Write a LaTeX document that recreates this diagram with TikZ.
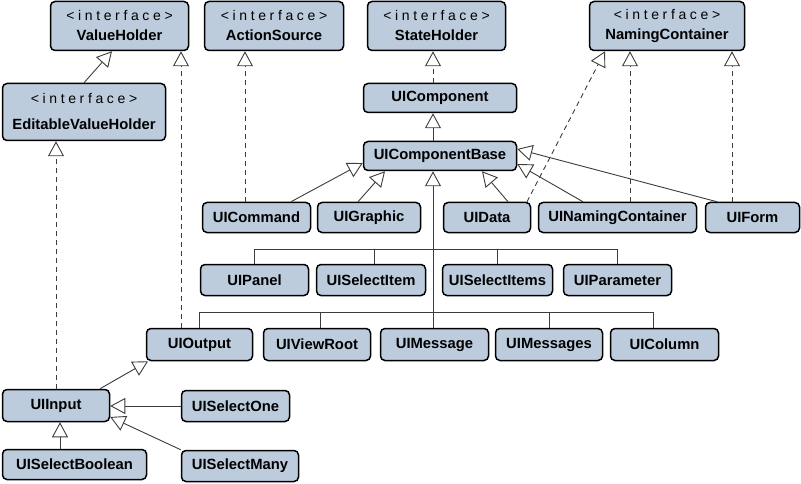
\documentclass[tikz,border=0pt]{standalone}
\usepackage{fontspec}
\setmainfont{Liberation Sans}
\newfontfamily\spacedfont[LetterSpace=26]{Liberation Sans}
\usetikzlibrary{arrows.meta}
\definecolor{boxfill}{RGB}{188,204,221}
\definecolor{linecol}{RGB}{60,60,60}
\newcommand\ifacelabel{{\spacedfont\mdseries\fontsize{14}{14}\selectfont <interface>}}
\tikzset{
  box/.style={draw=black, line width=1.5pt, rounded corners=4.5pt, fill=boxfill,
    inner sep=0pt, font=\bfseries\fontsize{14.8}{18}\selectfont, align=center},
  conn/.style={draw=linecol, line width=0.9pt},
  inh/.style={conn, -{Triangle[width=16pt,length=15pt,fill=white]}},
  real/.style={inh, dash pattern=on 5pt off 4pt},
}
\begin{document}
\begin{tikzpicture}[x=1pt,y=-1pt]
\useasboundingbox (0,0) rectangle (801,484);
% interfaces
\node[box, minimum width=138pt, minimum height=49pt] (VH) at (119.5,26) {\ifacelabel\\[2pt]ValueHolder};
\node[box, minimum width=139pt, minimum height=49pt] (AS) at (274,26) {\ifacelabel\\[2pt]ActionSource};
\node[box, minimum width=138pt, minimum height=49pt] (SH) at (436.5,26) {\ifacelabel\\[2pt]StateHolder};
\node[box, minimum width=155pt, minimum height=49pt] (NC) at (667,26) {\ifacelabel\\[2pt]NamingContainer};
\node[box, minimum width=163pt, minimum height=57pt] (EVH) at (84,112) {\ifacelabel\\[8pt]EditableValueHolder};
% core
\node[box, minimum width=153pt, minimum height=29pt] (UIC) at (440,98) {UIComponent};
\node[box, minimum width=153pt, minimum height=29pt] (UICB) at (440,156) {UIComponentBase};
% row 1
\node[box, minimum width=108pt, minimum height=30pt] (UICommand) at (256.5,217.5) {UICommand};
\node[box, minimum width=103pt, minimum height=30pt] (UIGraphic) at (369,217.5) {UIGraphic};
\node[box, minimum width=87pt, minimum height=30pt] (UIData) at (487,217.5) {UIData};
\node[box, minimum width=158pt, minimum height=30pt] (UINC) at (617.5,217.5) {UINamingContainer};
\node[box, minimum width=94pt, minimum height=30pt] (UIForm) at (752.5,217.5) {UIForm};
% row 2
\node[box, minimum width=108pt, minimum height=31pt] (UIPanel) at (254.5,280) {UIPanel};
\node[box, minimum width=109pt, minimum height=31pt] (UISelectItem) at (371,280) {UISelectItem};
\node[box, minimum width=110pt, minimum height=31pt] (UISelectItems) at (497.5,280) {UISelectItems};
\node[box, minimum width=108pt, minimum height=31pt] (UIParameter) at (617.5,280) {UIParameter};
% row 3
\node[box, minimum width=106pt, minimum height=32pt] (UIOutput) at (199.5,344.5) {UIOutput};
\node[box, minimum width=107pt, minimum height=32pt] (UIViewRoot) at (317,344.5) {UIViewRoot};
\node[box, minimum width=108pt, minimum height=32pt] (UIMessage) at (434.5,344.5) {UIMessage};
\node[box, minimum width=107pt, minimum height=32pt] (UIMessages) at (549,344.5) {UIMessages};
\node[box, minimum width=108pt, minimum height=32pt] (UIColumn) at (664.5,344.5) {UIColumn};
% input family
\node[box, minimum width=107pt, minimum height=32pt] (UIInput) at (56,405.5) {UIInput};
\node[box, minimum width=108pt, minimum height=31pt] (UISelectOne) at (235.5,406) {UISelectOne};
\node[box, minimum width=144pt, minimum height=30pt] (UISelectBoolean) at (74.5,464.5) {UISelectBoolean};
\node[box, minimum width=117pt, minimum height=31pt] (UISelectMany) at (240,466) {UISelectMany};

\coordinate (trunk) at (433,0);
\coordinate (bar1) at (0,249);
\coordinate (bar2) at (0,312);

% interface realisations
\draw[inh] (EVH.north) -- ([xshift=-7.5pt]VH.south);
\draw[real] ([xshift=-18.5pt]UIOutput.north) -- ([xshift=-18.5pt]UIOutput.north |- VH.south);
\draw[real] (UIInput.north) -- (UIInput.north |- EVH.south);
\draw[real] ([xshift=-11.5pt]UICommand.north) -- ([xshift=-11.5pt]UICommand.north |- AS.south);
\draw[real] (trunk |- UIC.north) -- (trunk |- SH.south);
\draw[inh] (trunk |- UICB.north) -- (trunk |- UIC.south);
\draw[real] ([xshift=40pt]UIData.north) -- ([xshift=-62pt]NC.south);
\draw[real] ([xshift=12.5pt]UINC.north) -- ([xshift=12.5pt]UINC.north |- NC.south);
\draw[real] ([xshift=-20.5pt]UIForm.north) -- ([xshift=-20.5pt]UIForm.north |- NC.south);

% inheritance to UIComponentBase
\draw[inh] ([xshift=34.5pt]UICommand.north) -- ([yshift=-7pt]UICB.west);
\draw[inh] ([xshift=-11pt]UIGraphic.north) -- ([xshift=-55pt]UICB.south);
\draw[inh] ([xshift=21pt]UIData.north) -- ([xshift=42pt]UICB.south);
\draw[inh] ([xshift=-34.5pt]UINC.north) -- ([yshift=-8pt]UICB.east);
\draw[inh] ([xshift=-35.5pt]UIForm.north) -- ([yshift=7pt]UICB.east);

% tree bars
\draw[conn] (UIPanel.north) |- (UIParameter.north |- bar1) -- (UIParameter.north);
\draw[conn] ([xshift=3pt]UISelectItem.north) -- ([xshift=3pt]UISelectItem.north |- bar1);
\draw[conn] (UISelectItems.north) -- (UISelectItems.north |- bar1);
\draw[conn] (UIOutput.north) |- ([xshift=-11.5pt]UIColumn.north |- bar2) -- ([xshift=-11.5pt]UIColumn.north);
\draw[conn] ([xshift=3pt]UIViewRoot.north) -- ([xshift=3pt]UIViewRoot.north |- bar2);
\draw[conn] (UIMessages.north) -- (UIMessages.north |- bar2);
\draw[inh] (trunk |- UIMessage.north) -- (trunk |- UICB.south);

% input family
\draw[inh] ([xshift=44pt]UIInput.north) -- ([xshift=-51.5pt]UIOutput.south);
\draw[inh] (UISelectOne.west) -- (UISelectOne.west -| UIInput.east);
\draw[inh] (UISelectMany.north west) -- ([yshift=-11.5pt]UIInput.east);
\draw[inh] ([xshift=-14.5pt]UISelectBoolean.north) -- ([xshift=-14.5pt]UISelectBoolean.north |- UIInput.south);
\end{tikzpicture}
\end{document}
